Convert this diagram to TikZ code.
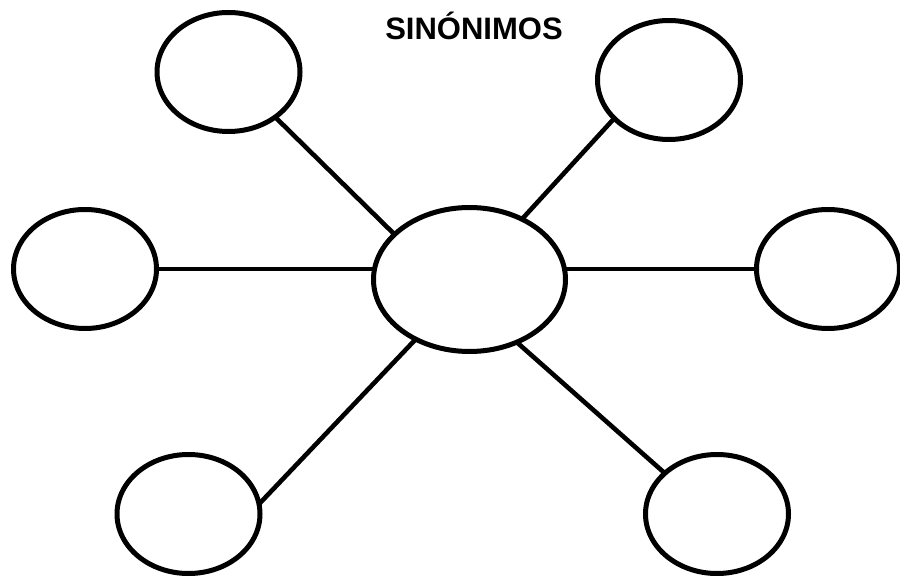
\documentclass[tikz,border=0pt]{standalone}
\usepackage{fontspec}
\setmainfont{Liberation Sans}
\usetikzlibrary{shapes.geometric}
\tikzset{
  bubble/.style={ellipse, draw=black, line width=5pt, inner sep=0pt, outer sep=0pt, minimum width=143pt, minimum height=119pt},
  hub/.style={ellipse, draw=black, line width=5pt, inner sep=0pt, outer sep=0pt, minimum width=192pt, minimum height=144pt},
  link/.style={draw=black, line width=4.6pt},
  titletext/.style={font=\bfseries\fontsize{31}{35}\selectfont, inner sep=0pt, anchor=base}
}
\begin{document}
\begin{tikzpicture}[x=1pt,y=1pt]
\useasboundingbox (0,0) rectangle (900,-577);
\node[titletext] (title) at (474,-40) {SINÓNIMOS};
\node[hub] (c) at (469.5,-279.5) {};
\node[bubble] (tl) at (228.5,-72) {};
\node[bubble] (tr) at (669,-80) {};
\node[bubble] (l) at (85,-269) {};
\node[bubble] (r) at (828,-269) {};
\node[bubble] (bl) at (188.5,-514) {};
\node[bubble] (br) at (717,-514) {};
\draw[link] (tl.-44) -- (c.149);
\draw[link] (tr.215) -- (c.49);
\draw[link] (l.east) -- (l.east -| c.west);
\draw[link] (r.west) -- (r.west -| c.east);
\draw[link] (bl.8) -- (c.228);
\draw[link] (br.142) -- (c.-53);
\end{tikzpicture}
\end{document}
